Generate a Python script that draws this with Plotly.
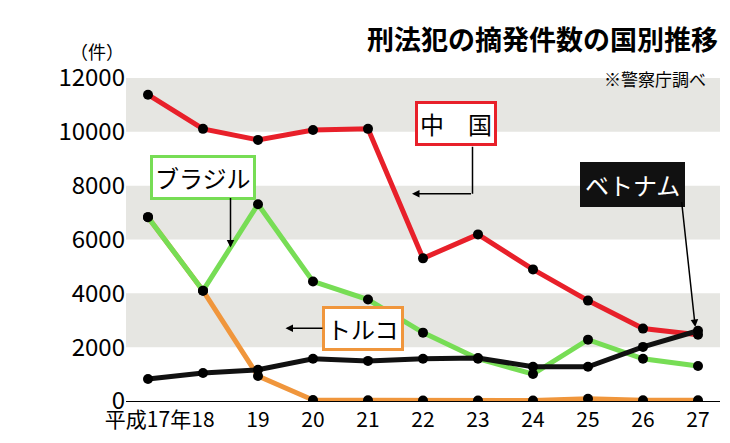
import plotly.graph_objects as go

years = [17, 18, 19, 20, 21, 22, 23, 24, 25, 26, 27]
xlabels = ["平成17年", "18", "19", "20", "21", "22", "23", "24", "25", "26", "27"]
china = [11380, 10110, 9700, 10070, 10110, 5300, 6190, 4890, 3730, 2690, 2460]
brazil = [6830, 4100, 7310, 4440, 3770, 2540, 1570, 1000, 2280, 1570, 1300]
turkey = [6830, 4100, 930, 40, 30, 20, 20, 20, 80, 30, 30]
vietnam = [820, 1040, 1160, 1570, 1490, 1570, 1600, 1270, 1270, 2010, 2610]

fig = go.Figure()
for lo, hi in [(2000, 4000), (6000, 8000), (10000, 12000)]:
    fig.add_hrect(y0=lo, y1=hi, fillcolor="#e6e6e2", line_width=0, layer="below")

def add(vals, col):
    fig.add_trace(go.Scatter(x=years, y=vals, mode="lines+markers",
                             line=dict(color=col, width=5),
                             marker=dict(color="black", size=10), showlegend=False))

add(turkey, "#f0963c")
add(brazil, "#77dd55")
add(china, "#e8202a")
add(vietnam, "#111111")

F = "Noto Sans CJK JP"
def box(text, x, y, border, bg="white", fc="black"):
    fig.add_annotation(x=x, y=y, xref="x", yref="y", text=text, showarrow=False,
                       font=dict(size=24, color=fc, family=F), bgcolor=bg,
                       bordercolor=border, borderwidth=3, borderpad=2)
box("中　国", 22.6, 10300, "#e8202a")
box("ブラジル", 18.0, 8300, "#77dd55")
box("トルコ", 20.9, 2700, "#f0963c")
box("ベトナム", 25.8, 8050, "#111111", bg="#111111", fc="white")

arrow = dict(showarrow=True, arrowhead=2, arrowwidth=1.5, arrowcolor="black", axref="x", ayref="y")
fig.add_annotation(x=22.9, y=7700, ax=22.9, ay=9500, showarrow=True, arrowhead=0, arrowwidth=1.5,
                   arrowcolor="black", axref="x", ayref="y", text="")
fig.add_annotation(x=21.8, y=7700, ax=22.9, ay=7700, text="", **arrow)
fig.add_annotation(x=18.5, y=5700, ax=18.5, ay=7600, text="", **arrow)
fig.add_annotation(x=19.5, y=2700, ax=20.2, ay=2700, text="", **arrow)
fig.add_annotation(x=26.95, y=2750, ax=26.7, ay=7450, text="", **arrow)

fig.add_annotation(x=0.0, y=1.13, xref="paper", yref="paper", text="（件）", showarrow=False,
                   font=dict(size=18, family=F, color="black"), xanchor="right")
fig.add_annotation(x=1.0, y=1.19, xref="paper", yref="paper", text="<b>刑法犯の摘発件数の国別推移</b>",
                   showarrow=False, font=dict(size=27, family=F, color="black"), xanchor="right")
fig.add_annotation(x=0.98, y=1.0, xref="paper", yref="paper", text="※警察庁調べ", yanchor="middle",
                   showarrow=False, font=dict(size=17, family=F, color="black"), xanchor="right")

fig.update_layout(width=730, height=443, margin=dict(l=118, r=18, t=70, b=50),
                  plot_bgcolor="white", paper_bgcolor="white")
fig.update_xaxes(tickvals=years, ticktext=xlabels, range=[16.6, 27.4], showgrid=False, tickangle=0,
                 tickfont=dict(size=21, family=F, color="black"), showline=True, linecolor="black")
fig.update_yaxes(range=[0, 12000], dtick=2000, tickformat="d", showgrid=False, zeroline=False,
                 tickfont=dict(size=24, family=F, color="black"), showline=False)
fig.write_html("out.html")
